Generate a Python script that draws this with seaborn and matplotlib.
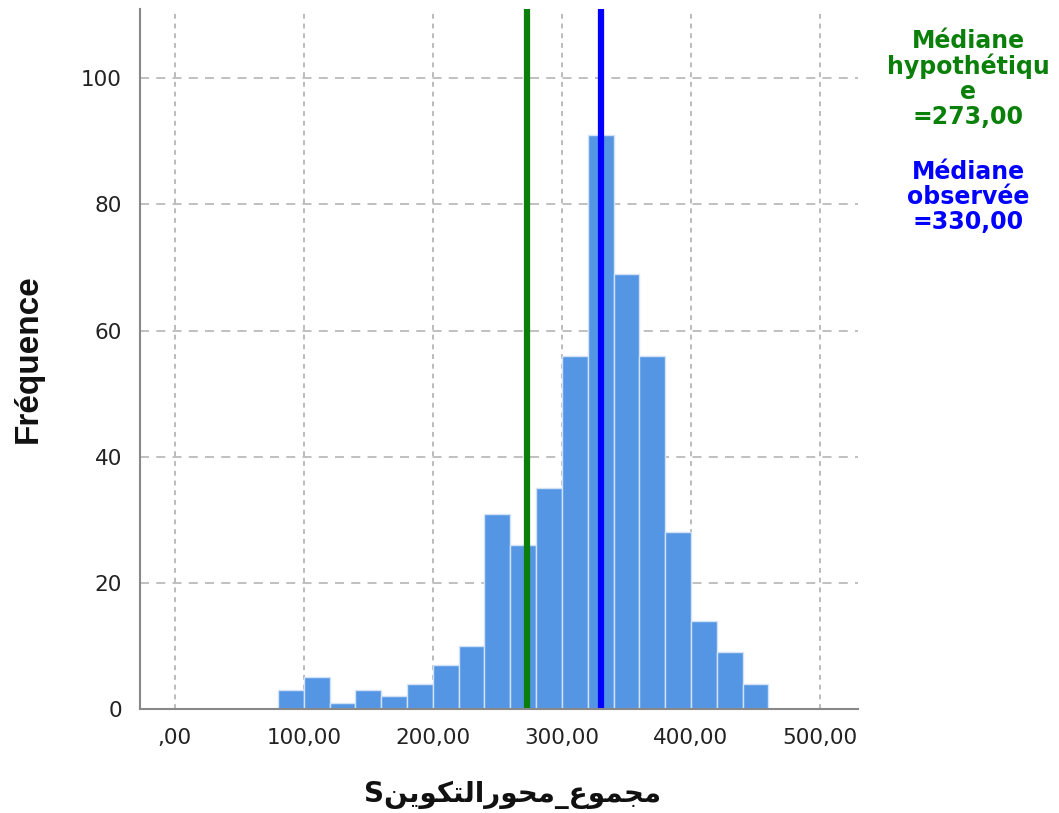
import matplotlib
matplotlib.use("Agg")
import matplotlib.pyplot as plt
import numpy as np
import pandas as pd
import seaborn as sns

# Histogram bins (lower edges, width 20) and counts
BIN_START = 80
BIN_WIDTH = 20
COUNTS = [3, 5, 1, 3, 2, 4, 7, 10, 31, 26, 35, 56, 91, 69, 56, 28, 14, 9, 4]

HYPO_MEDIAN = 273.0
OBS_MEDIAN = 330.0

X_TICKS = [0, 100, 200, 300, 400, 500]
X_TICK_LABELS = [",00", "100,00", "200,00", "300,00", "400,00", "500,00"]
Y_TICKS = [0, 20, 40, 60, 80, 100]

X_LABEL_LOGICAL = "مجموع_محورالتكوين"
X_LABEL_SUFFIX = "S"
Y_LABEL = "Fréquence"

BAR_COLOR = "#5596E4"
HYPO_COLOR = "#0A800A"
OBS_COLOR = "#0000FF"

# Arabic presentation forms: isolated, final, initial, medial
FORMS = {
    "م": ("\uFEE1", "\uFEE2", "\uFEE3", "\uFEE4"),
    "ج": ("\uFE9D", "\uFE9E", "\uFE9F", "\uFEA0"),
    "و": ("\uFEED", "\uFEEE", None, None),
    "ع": ("\uFEC9", "\uFECA", "\uFECB", "\uFECC"),
    "ح": ("\uFEA1", "\uFEA2", "\uFEA3", "\uFEA4"),
    "ر": ("\uFEAD", "\uFEAE", None, None),
    "ا": ("\uFE8D", "\uFE8E", None, None),
    "ل": ("\uFEDD", "\uFEDE", "\uFEDF", "\uFEE0"),
    "ت": ("\uFE95", "\uFE96", "\uFE97", "\uFE98"),
    "ك": ("\uFED9", "\uFEDA", "\uFEDB", "\uFEDC"),
    "ي": ("\uFEF1", "\uFEF2", "\uFEF3", "\uFEF4"),
    "ن": ("\uFEE5", "\uFEE6", "\uFEE7", "\uFEE8"),
}


def shape_arabic(text: str) -> str:
    # Minimal contextual shaping, then reversal into visual (RTL) order
    out = []
    for i, ch in enumerate(text):
        if ch not in FORMS:
            out.append(ch)
            continue
        prev = text[i - 1] if i > 0 else None
        nxt = text[i + 1] if i + 1 < len(text) else None
        joins_prev = prev in FORMS and FORMS[prev][2] is not None
        joins_next = nxt in FORMS and FORMS[ch][2] is not None
        iso, fin, ini, med = FORMS[ch]
        if joins_prev and joins_next:
            out.append(med)
        elif joins_prev:
            out.append(fin)
        elif joins_next:
            out.append(ini)
        else:
            out.append(iso)
    return "".join(reversed(out))


edges = [BIN_START + BIN_WIDTH * i for i in range(len(COUNTS) + 1)]
df = pd.DataFrame({"value": [e + BIN_WIDTH / 2 for e in edges[:-1]], "count": COUNTS})

sns.set_style("white")
plt.rcParams["font.family"] = ["DejaVu Sans"]

fig = plt.figure(figsize=(10.59, 8.13), dpi=100)
ax = fig.add_axes([140 / 1059, 1 - 709 / 813, (858 - 140) / 1059, (709 - 9) / 813])

ax.set_axisbelow(True)
ax.xaxis.grid(True, linestyle=(0, (2.5, 2.5)), color="#BBBBBB", linewidth=1.4)
ax.yaxis.grid(True, linestyle=(0, (5, 4)), color="#BBBBBB", linewidth=1.3)

sns.histplot(data=df, x="value", weights="count", bins=edges, color=BAR_COLOR,
             alpha=1.0, edgecolor="#D2E3F7", linewidth=1.0, ax=ax, zorder=2)

ax.axvline(HYPO_MEDIAN, color=HYPO_COLOR, linewidth=4.5, zorder=4)
ax.axvline(OBS_MEDIAN, color=OBS_COLOR, linewidth=4.5, zorder=4)

ax.set_xlim(-27, 529.5)
ax.set_ylim(0, 111)
ax.set_xticks(X_TICKS)
ax.set_xticklabels(X_TICK_LABELS)
ax.set_yticks(Y_TICKS)
ax.tick_params(axis="both", length=0, labelsize=15.5, colors="#222222")
ax.tick_params(axis="x", pad=14)
ax.tick_params(axis="y", pad=13)

for side in ["top", "right"]:
    ax.spines[side].set_visible(False)
for side in ["left", "bottom"]:
    ax.spines[side].set_color("#888888")
    ax.spines[side].set_linewidth(1.5)
    ax.spines[side].set_zorder(5)

ax.set_xlabel("")
ax.set_ylabel("")
fig.text(28 / 1059, 1 - 359 / 813, Y_LABEL, rotation=90, ha="center", va="center",
         fontsize=24, fontweight="bold", color="#111111",
         family=["Liberation Sans", "DejaVu Sans"])
fig.text(512 / 1059, 1 - 795 / 813, X_LABEL_SUFFIX + shape_arabic(X_LABEL_LOGICAL),
         ha="center", va="center", fontsize=20, fontweight="bold", color="#111111")

fig.text(968 / 1059, 1 - 79 / 813, "Médiane\nhypothétiqu\ne\n=273,00",
         ha="center", va="center", fontsize=17, fontweight="bold",
         color=HYPO_COLOR, linespacing=1.05)
fig.text(968 / 1059, 1 - 197 / 813, "Médiane\nobservée\n=330,00",
         ha="center", va="center", fontsize=17, fontweight="bold",
         color=OBS_COLOR, linespacing=1.05)

fig.savefig("out.png", dpi=100)
